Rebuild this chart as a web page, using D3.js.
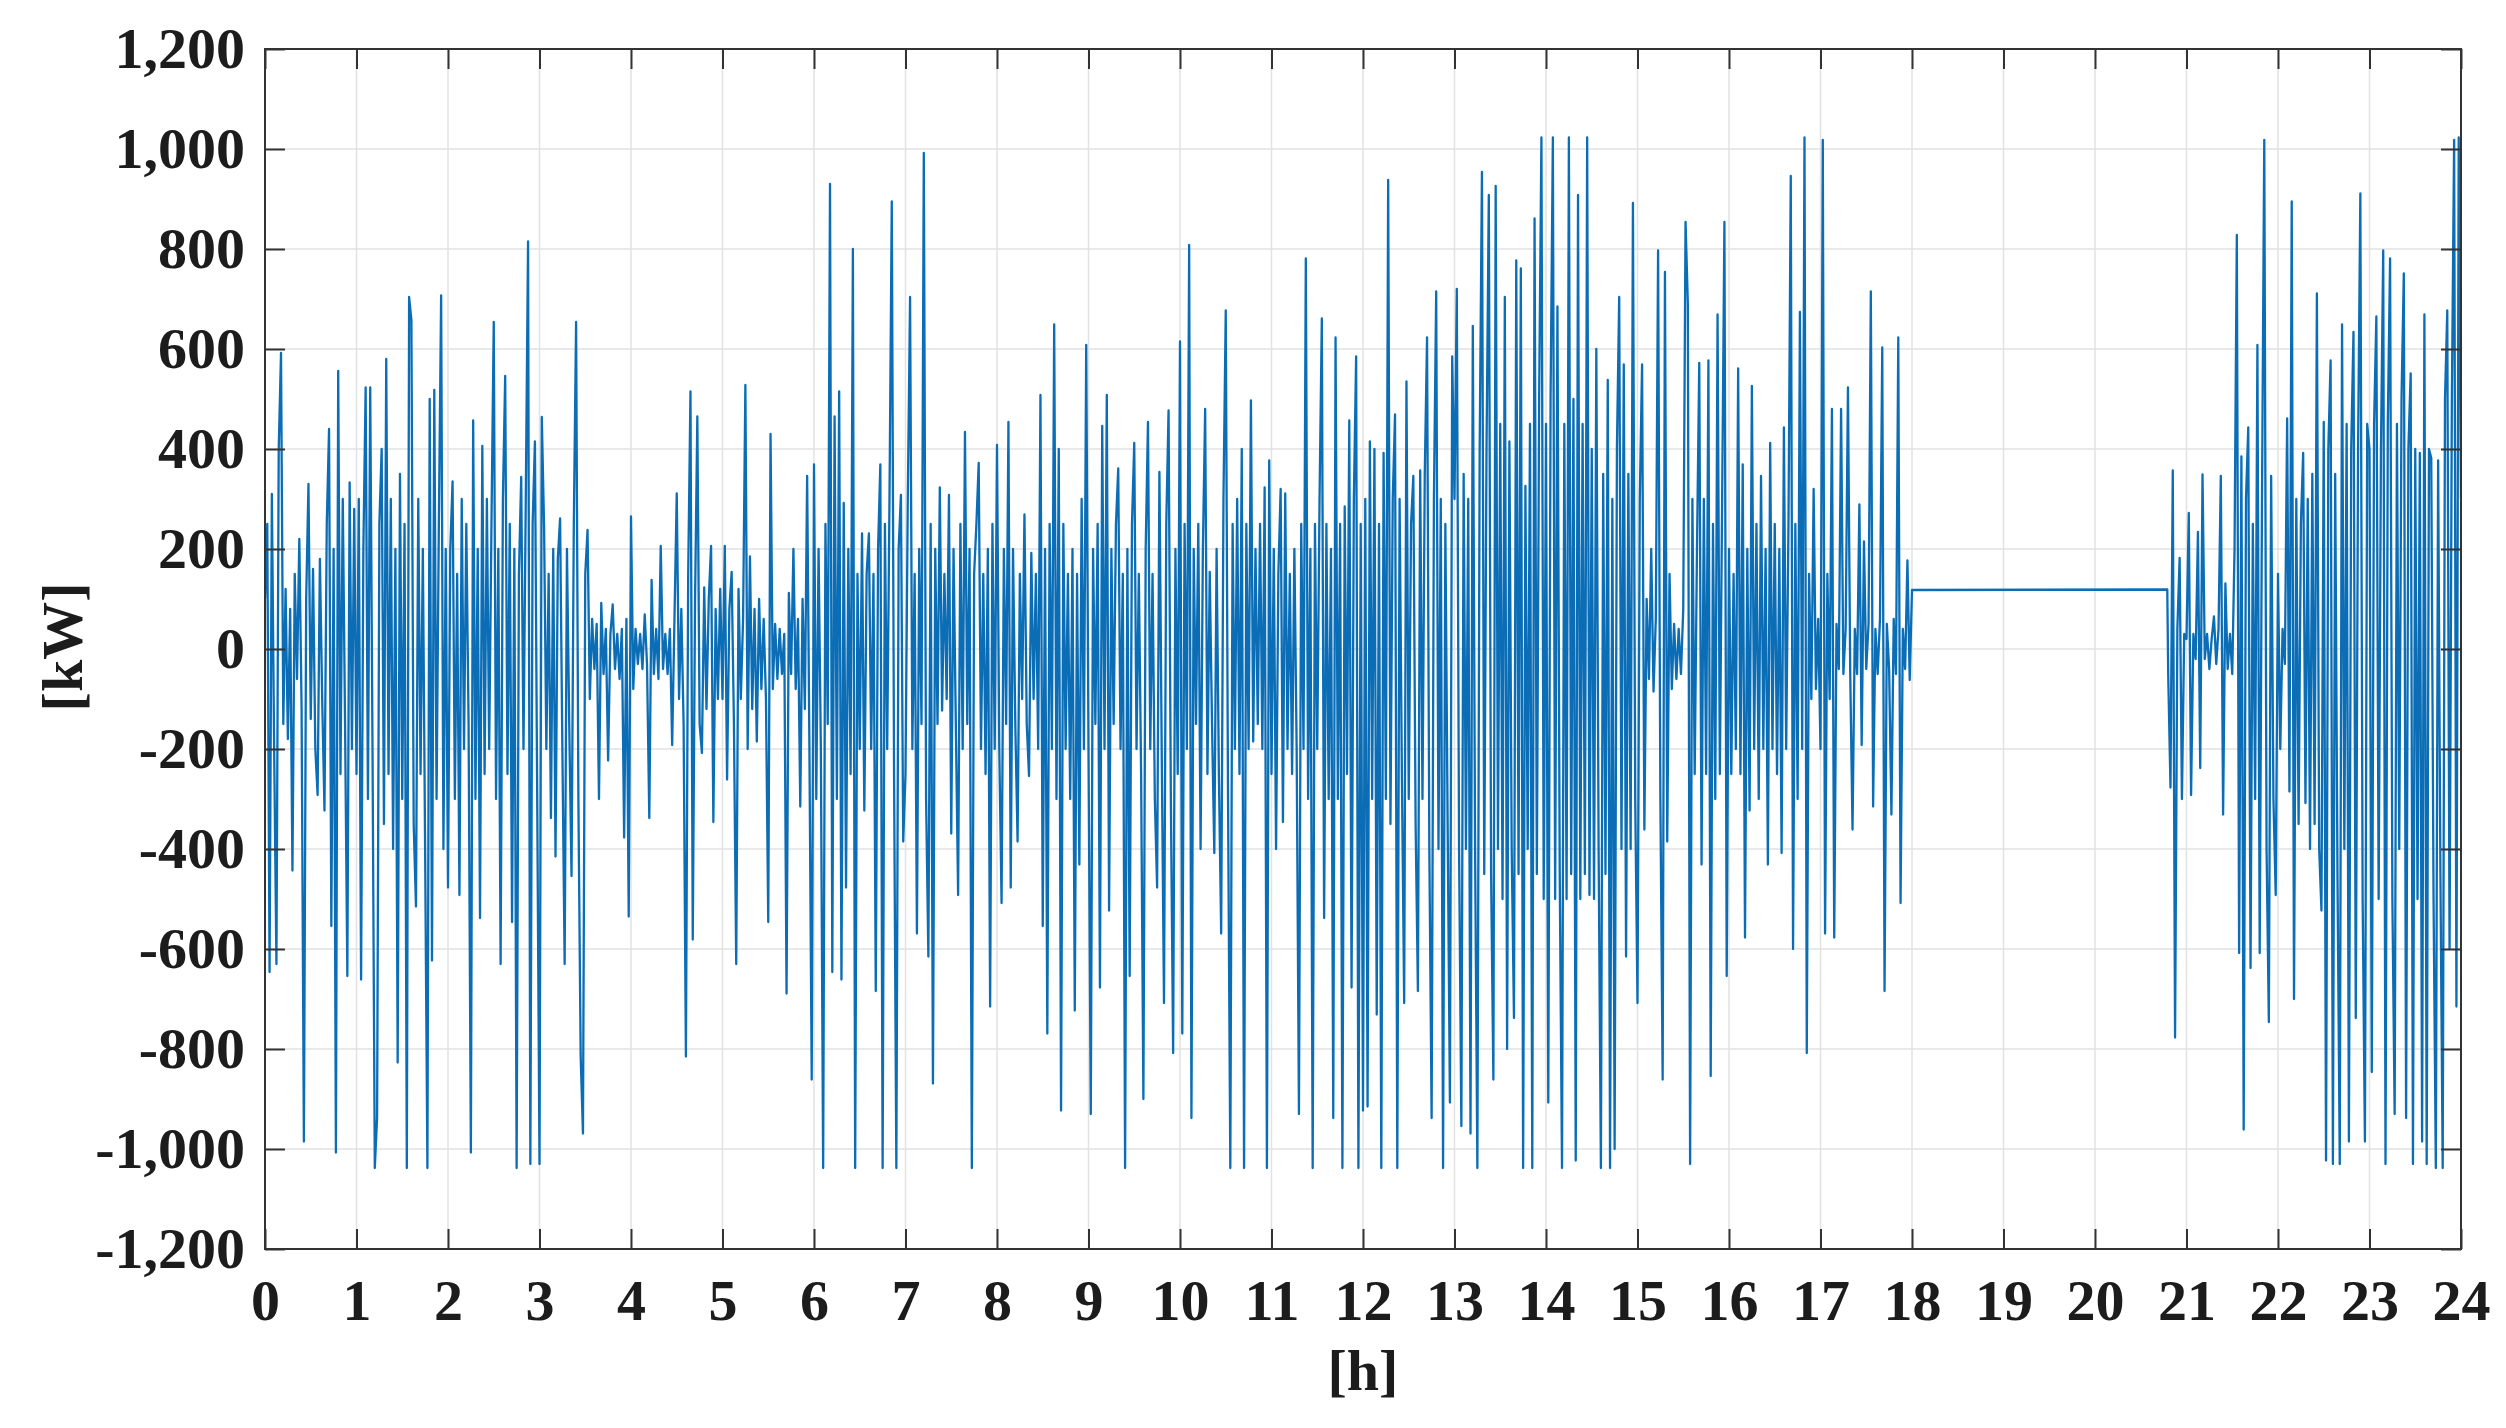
<!DOCTYPE html>
<html><head><meta charset="utf-8">
<script src="https://cdn.jsdelivr.net/npm/d3@7"></script>
<style>
body{margin:0;background:#fff}
text{font-family:"Liberation Serif","Times New Roman",serif;font-weight:bold;fill:#1c1c1c}
</style>
</head><body>
<svg id="chart" width="2506" height="1428"></svg>
<script>
// ---- tick labels ----
const xTickValues = [0,1,2,3,4,5,6,7,8,9,10,11,12,13,14,15,16,17,18,19,20,21,22,23,24];
const yTickValues = [-1200,-1000,-800,-600,-400,-200,0,200,400,600,800,1000,1200];
const xLabel = "[h]";
const yLabel = "[kW]";

// ---- power readings [kW], 40 samples per hour (one every 1.5 min) ----
const samplesPerHour = 40;
const h00 = [100,250,-646,310,-200,-630,400,592,-150,120,-180,80,-443,150,-60,220,-120,-985,100,330,-140,160,-200,-292,180,-100,-323,250,440,-554,200,-1007,556,-250,300,-150,-654,333,-200,280];
const h01 = [-250,300,-661,200,523,-300,523,-200,-1038,-938,250,400,-350,580,-250,300,-400,200,-827,350,-300,250,-1038,704,658,-350,-515,300,-250,200,-400,-1038,500,-623,518,-300,250,707,-400,200];
const h02 = [-477,200,335,-300,150,-492,300,-200,250,-150,-1007,457,-300,200,-538,406,-250,300,-200,250,654,-300,200,-630,300,546,-250,250,-546,200,-1038,150,344,-200,300,815,-1030,250,415,-300];
const h03 = [-1030,464,246,-200,150,-338,200,-415,180,261,-200,-630,200,-150,-454,250,654,-300,-815,-969,150,238,-100,60,-40,50,-300,92,-50,40,-223,30,89,-40,30,-60,40,-377,60,-535];
const h04 = [265,-80,40,-30,30,-40,69,-30,-338,138,-50,40,-60,206,-40,30,-50,40,-192,60,311,-100,80,-150,-815,150,515,-581,100,465,-150,-208,123,-120,100,206,-346,80,-100,120];
const h05 = [-100,206,-261,80,154,-150,-630,120,-100,60,528,-200,185,-120,80,-185,100,-80,60,-100,-546,430,-80,50,-60,40,-50,30,-689,112,-50,200,-80,60,-315,100,-120,346,-200,-861];
const h06 = [369,-300,200,-200,-1038,250,-150,930,-646,465,-300,515,-661,292,-477,200,-250,800,-1038,150,-200,231,-323,150,231,-200,150,-684,200,369,-1038,250,-200,300,895,-250,-1038,200,308,-385];
const h07 = [-250,300,704,-200,150,-569,200,-150,992,-300,-615,250,-869,200,-150,323,-123,150,-100,308,-369,200,-150,-492,250,-200,434,-150,200,-1038,150,250,372,-200,150,-250,200,-715,250,-200];
const h08 = [408,-200,-508,200,-150,454,-477,200,-150,-385,150,-100,269,-150,-254,192,-100,150,-200,508,-554,200,-769,250,-200,649,-300,400,-923,250,-200,150,-300,200,-723,150,-431,300,-200,608];
const h09 = [-200,-930,200,-150,250,-677,446,-200,508,-523,200,-150,250,361,-200,150,-1038,200,-654,250,412,-200,150,-250,-900,200,454,-200,150,-300,-477,354,-200,-708,250,477,-300,-808,200,-250];
const h10 = [615,-769,250,-200,808,-938,200,-150,250,-400,200,480,-250,154,-150,-408,200,-250,-569,300,677,-300,-1038,250,-200,300,-250,400,-1038,250,-200,497,-185,200,-150,250,-200,323,-1038,377];
const h11 = [-250,200,-400,150,320,-346,311,-200,150,-250,200,-200,-930,250,-200,781,-300,200,-1038,250,-200,300,661,-538,250,-300,200,-938,623,-300,250,-1038,285,-250,457,-677,300,585,-1038,250];
const h12 = [-923,300,-915,415,-300,400,-731,250,-1038,392,-300,938,-350,300,469,-1038,300,-250,-708,535,-300,250,346,-350,-684,357,-300,350,623,-400,-938,300,715,-400,300,-1038,250,-350,-907,585];
const h13 = [300,720,-400,-954,350,-400,300,-969,646,-400,-1038,400,954,-450,400,908,-450,-861,926,-400,450,-500,704,-800,415,-400,-738,777,-450,761,-1038,326,-400,450,-1038,861,-450,500,1023,-500];
const h14 = [450,-907,500,1023,-500,685,-450,-1038,450,-500,1023,-450,500,-1023,908,-500,450,-450,1023,-492,400,-500,600,-400,-1038,350,-450,538,-1038,300,-1000,400,704,-400,569,-615,350,-400,892,-300];
const h15 = [-708,300,569,-361,100,-60,200,-85,60,797,-300,-861,754,-385,150,-80,50,-60,40,-50,80,854,692,-1030,300,-250,200,572,-431,300,-250,577,-854,250,-300,669,-250,300,854,-654];
const h16 = [200,-250,150,-200,561,-250,369,-577,200,-323,526,-200,250,-300,346,-200,200,-431,412,-200,250,-250,200,-408,443,-200,250,946,-600,250,-300,674,-200,1023,-808,150,-100,320,-80,60];
const h17 = [-200,1018,-569,150,-100,480,-577,50,-40,480,-50,40,523,-50,-361,40,-50,289,-192,215,-40,50,715,-315,40,-50,60,603,-684,50,-40,-331,60,-50,623,-508,40,-40,177,-62];
// steady period
const flatHours = [18.0, 20.79];
const flatValues = [118, 119];
// restart at 20.8 h
const restartHour = 20.8;
const h20b = [-50,-277,357,-777,40,182,-300,30];
const h21 = [20,272,-292,30,-20,234,-238,349,-20,30,-40,20,65,-30,40,346,-331,131,-40,30,-50,200,828,-608,385,-961,300,443,-638,250,-300,608,-608,300,1018,-400,-746,346,-300,-492];
const h22 = [150,-200,40,-30,461,-285,895,-700,300,-350,250,392,-308,300,-400,350,-350,711,-400,-523,454,-1023,400,577,-1030,350,-450,-1030,649,-400,450,-985,400,634,-738,400,911,-500,-985,450];
const h23 = [400,-846,450,665,-500,400,797,-1030,450,781,-500,-930,450,-400,500,751,-938,400,551,-1030,400,-500,392,-985,669,-1030,400,382,-500,-1038,377,-450,-1038,500,677,-600,500,1018,-715,1023];
const endValue = 300;

// ---- assemble series ----
const series = [];
[h00,h01,h02,h03,h04,h05,h06,h07,h08,h09,h10,h11,h12,h13,h14,h15,h16,h17].forEach((vals, hr) =>
  vals.forEach((v, i) => series.push([hr + i / samplesPerHour, v])));
flatHours.forEach((t, i) => series.push([t, flatValues[i]]));
h20b.forEach((v, i) => series.push([restartHour + i / samplesPerHour, v]));
[h21,h22,h23].forEach((vals, k) =>
  vals.forEach((v, i) => series.push([21 + k + i / samplesPerHour, v])));
series.push([24, endValue]);

// ---- layout ----
const L = 265, R = 2461, T = 49, B = 1249;
const svg = d3.select("#chart");
const x = d3.scaleLinear().domain([0, 24]).range([L, R]);
const y = d3.scaleLinear().domain([-1200, 1200]).range([B, T]);
const loc = d3.formatLocale({decimal: ".", thousands: ",", grouping: [3], currency: ["", ""], minus: "-"});
const fmt = loc.format(",");

// grid
const grid = svg.append("g").attr("stroke", "#e2e2e2").attr("stroke-width", 1.5);
xTickValues.forEach(t => grid.append("line").attr("x1", x(t)).attr("x2", x(t)).attr("y1", T).attr("y2", B));
yTickValues.forEach(t => grid.append("line").attr("x1", L).attr("x2", R).attr("y1", y(t)).attr("y2", y(t)));

// data line
svg.append("defs").append("clipPath").attr("id", "clip")
  .append("rect").attr("x", L).attr("y", T).attr("width", R - L).attr("height", B - T);
svg.append("path")
  .datum(series)
  .attr("clip-path", "url(#clip)")
  .attr("fill", "none")
  .attr("stroke", "#0A6DB5")
  .attr("stroke-width", 2.3)
  .attr("stroke-linejoin", "round")
  .attr("d", d3.line().x(d => x(d[0])).y(d => y(d[1])));

// axes
function styleAxis(g) {
  g.select(".domain").remove();
  g.selectAll(".tick line").attr("stroke", "#333").attr("stroke-width", 2);
  g.selectAll(".tick text").attr("font-size", 58).attr("fill", "#1c1c1c")
    .attr("font-family", '"Liberation Serif","Times New Roman",serif').attr("font-weight", "bold");
}
svg.append("g").attr("transform", `translate(0,${B})`)
  .call(d3.axisBottom(x).tickValues(xTickValues).tickSize(-20).tickPadding(30).tickFormat(d3.format("d")))
  .call(styleAxis);
svg.append("g").attr("transform", `translate(0,${T})`)
  .call(d3.axisTop(x).tickValues(xTickValues).tickSize(-20).tickFormat(""))
  .call(styleAxis);
svg.append("g").attr("transform", `translate(${L},0)`)
  .call(d3.axisLeft(y).tickValues(yTickValues).tickSize(-20).tickPadding(20).tickFormat(fmt))
  .call(styleAxis);
svg.append("g").attr("transform", `translate(${R},0)`)
  .call(d3.axisRight(y).tickValues(yTickValues).tickSize(-20).tickFormat(""))
  .call(styleAxis);

// frame
svg.append("rect").attr("x", L).attr("y", T).attr("width", R - L).attr("height", B - T)
  .attr("fill", "none").attr("stroke", "#333").attr("stroke-width", 2);

// axis titles
svg.append("text").attr("x", (L + R) / 2).attr("y", 1390).attr("text-anchor", "middle")
  .attr("font-size", 58).text(xLabel);
svg.append("text").attr("transform", "translate(82,647) rotate(-90)").attr("text-anchor", "middle")
  .attr("font-size", 58).text(yLabel);
</script>
</body></html>
